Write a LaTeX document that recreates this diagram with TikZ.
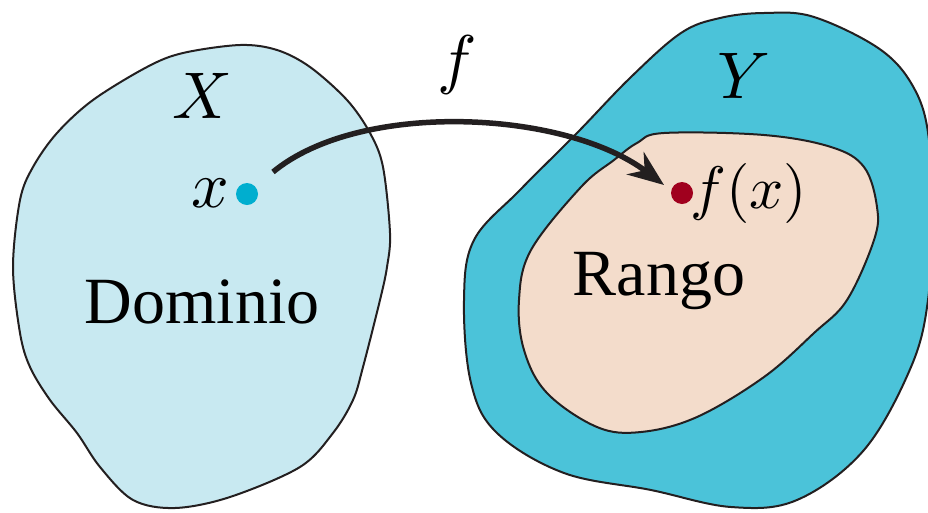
\documentclass[tikz,border=0pt]{standalone}
\usepackage{graphicx}
\usepackage{fontspec}
\setmainfont{Liberation Serif}
\usetikzlibrary{arrows.meta}
\definecolor{domfill}{HTML}{C8E9F1}
\definecolor{codfill}{HTML}{4BC3D9}
\definecolor{rngfill}{HTML}{F3DCCB}
\definecolor{xdot}{HTML}{00AECF}
\definecolor{fdot}{HTML}{A0001E}
\definecolor{edge}{HTML}{231F20}
\newcommand{\mylbl}[2][6.6]{\scalebox{#1}{\fontsize{10}{12}\selectfont$#2$}}
\begin{document}
\begin{tikzpicture}[x=1pt,y=-1pt,
  blob/.style={draw=edge,line width=2pt},
  lbl/.style={inner sep=0pt,anchor=base,font=\fontsize{66}{78}\selectfont},
  pt/.style={circle,inner sep=0pt,minimum size=22pt}]
\useasboundingbox (0,0) rectangle (928,512);
\begin{scope}
\clip (0,0) rectangle (928,512);
% domain X
\draw[blob,fill=domfill] plot[smooth cycle,tension=0.55] coordinates {
 (240,45) (277,50) (310,67) (347,100) (370,133) (383,167) (390,233) (387,267)
 (380,300) (363,367) (353,400) (333,433) (300,467) (230,497) (175,508)
 (133,500) (100,467) (77,433) (50,400) (30,367) (20,333) (13,267) (20,200)
 (33,167) (57,133) (93,100) (147,67) (183,53)};
% codomain Y
\draw[blob,fill=codfill] plot[smooth cycle,tension=0.6] coordinates {
 (764,13) (814,17) (881,50) (915,90) (929,140) (931,220) (928,300) (911,367)
 (864,450) (797,500) (731,507) (651,490) (564,473) (497,433) (471,383)
 (464,300) (474,240) (520,190) (577,133) (631,77) (681,33) (720,18)};
% range
\draw[blob,fill=rngfill] plot[smooth cycle,tension=0.6] coordinates {
 (664,133) (764,135) (831,147) (864,167) (877,207) (874,240) (847,300)
 (814,333) (764,377) (697,417) (641,432) (597,427) (547,393) (524,350)
 (519,300) (531,250) (581,187) (614,160) (637,143)};
\end{scope}
% labels
\node[lbl] (lX) at (202,118) {\mylbl{X}};
\node[lbl] (lY) at (744,98) {\mylbl{Y}};
\node[lbl] (lf) at (457,81) {\mylbl{f}};
\node[lbl] (lx) at (210,207) {\mylbl{x}};
\node[lbl] (ldom) at (202,323) {Dominio};
\node[lbl] (lrng) at (659,295) {Rango};
\node[lbl,anchor=base west] (lfx) at (690,208) {\mylbl[6.0]{f(x)}};
% points
\node[pt,fill=xdot] (xd) at (247,194) {};
\node[pt,fill=fdot] (fd) at (682,193) {};
% arrow
\coordinate (as) at (273,172);
\coordinate (ae) at (664,185);
\draw[line width=5.5pt,color=edge,-{Stealth[length=36pt,width=28pt]}]
  (as) .. controls (360,100) and (565,110) .. (ae);
\end{tikzpicture}
\end{document}
